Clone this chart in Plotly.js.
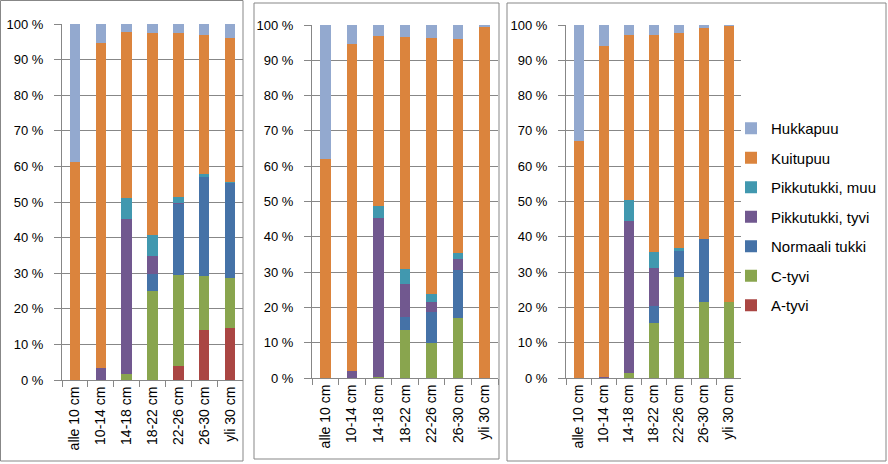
<!DOCTYPE html>
<html>
<head>
<meta charset="utf-8">
<script src="https://cdn.plot.ly/plotly-3.0.1.min.js"></script>
<style>html,body{margin:0;padding:0;background:#fff;}#chart{width:888px;height:464px;}</style>
</head>
<body>
<div id="chart"></div>
<script>
var categories = ['alle 10 cm','10-14 cm','14-18 cm','18-22 cm','22-26 cm','26-30 cm','yli 30 cm'];
var seriesNames = ['A-tyvi','C-tyvi','Normaali tukki','Pikkutukki, tyvi','Pikkutukki, muu','Kuitupuu','Hukkapuu'];
var seriesColors = ['#AA4643','#89A54E','#4572A7','#71588F','#4198AF','#DB843D','#93A9CF'];
var yTickVals = [0,10,20,30,40,50,60,70,80,90,100];
var yTickText = ['0 %','10 %','20 %','30 %','40 %','50 %','60 %','70 %','80 %','90 %','100 %'];

// Panel 1
var p1_A      = [0,0,0,0,4.0,14.0,14.6];
var p1_C      = [0,0,1.7,25.1,25.5,15.3,14.1];
var p1_Norm   = [0,0,0,4.7,19.9,27.8,26.5];
var p1_PTyvi  = [0,3.5,43.5,5.1,0.3,0,0];
var p1_PMuu   = [0,0,5.9,5.8,1.8,0.8,0.4];
var p1_Kuitu  = [61.1,91.1,46.6,56.7,45.9,39.0,40.6];
var p1_Hukka  = [38.9,5.4,2.3,2.6,2.6,3.1,3.8];

// Panel 2
var p2_A      = [0,0,0,0,0,0,0];
var p2_C      = [0,0,0.3,13.5,9.9,17.0,0];
var p2_Norm   = [0,0,0,3.8,8.8,13.7,0];
var p2_PTyvi  = [0,1.9,45.0,9.4,2.8,3.1,0];
var p2_PMuu   = [0,0,3.4,4.1,2.4,1.5,0];
var p2_Kuitu  = [62.0,92.6,48.3,65.9,72.5,60.7,99.3];
var p2_Hukka  = [38.0,5.5,3.0,3.3,3.6,4.0,0.7];

// Panel 3
var p3_A      = [0,0,0,0,0,0,0];
var p3_C      = [0,0,1.3,15.6,28.5,21.4,21.5];
var p3_Norm   = [0,0,0,4.7,7.6,18.0,0];
var p3_PTyvi  = [0,0.3,43.3,11.0,0,0,0];
var p3_PMuu   = [0,0,5.9,4.4,0.7,0,0];
var p3_Kuitu  = [67.0,93.8,46.7,61.5,60.8,59.7,78.2];
var p3_Hukka  = [33.0,5.9,2.8,2.8,2.4,0.9,0.3];

var panels = [
  [p1_A,p1_C,p1_Norm,p1_PTyvi,p1_PMuu,p1_Kuitu,p1_Hukka],
  [p2_A,p2_C,p2_Norm,p2_PTyvi,p2_PMuu,p2_Kuitu,p2_Hukka],
  [p3_A,p3_C,p3_Norm,p3_PTyvi,p3_PMuu,p3_Kuitu,p3_Hukka]
];

var W = 888, H = 464;
function px(x){ return x / W; }
function py(y){ return 1 - y / H; }

var traces = [];
panels.forEach(function(panel, pi){
  var sfx = pi === 0 ? '' : String(pi + 1);
  panel.forEach(function(vals, si){
    traces.push({
      type: 'bar',
      x: categories,
      y: vals,
      name: seriesNames[si],
      legendgroup: seriesNames[si],
      legendrank: seriesNames.length - si,
      showlegend: pi === 2,
      marker: {color: seriesColors[si], line: {width: 0}},
      xaxis: 'x' + sfx,
      yaxis: 'y' + sfx,
      hoverinfo: 'skip'
    });
  });
});

var font = 'Liberation Sans, Arial, sans-serif';
var gray = '#878787';

function xAxis(dom, anchor){
  return {
    domain: dom, anchor: anchor, type: 'category',
    showline: true, linecolor: gray, linewidth: 1,
    ticks: 'outside', tickson: 'boundaries', ticklen: 6, tickcolor: gray,
    tickangle: -90, showgrid: false, zeroline: false,
    tickfont: {family: font, size: 14, color: '#000'},
    fixedrange: true
  };
}
function yAxis(dom, anchor){
  return {
    domain: dom, anchor: anchor, range: [0, 100],
    tickvals: yTickVals, ticktext: yTickText,
    showgrid: true, gridcolor: gray, gridwidth: 1,
    showline: true, linecolor: gray, linewidth: 1,
    ticks: 'outside', ticklen: 7, tickcolor: gray,
    ticklabelstandoff: 8,
    zeroline: false,
    tickfont: {family: font, size: 13, color: '#000'},
    fixedrange: true
  };
}

var layout = {
  width: W, height: H,
  margin: {l: 0, r: 0, t: 0, b: 0},
  paper_bgcolor: '#fff', plot_bgcolor: 'rgba(0,0,0,0)',
  barmode: 'stack', bargap: 0.6,
  showlegend: true,
  legend: {
    x: px(731), y: py(112), xanchor: 'left', yanchor: 'top',
    traceorder: 'grouped', tracegroupgap: 7,
    font: {family: font, size: 15, color: '#000'},
    bgcolor: 'rgba(0,0,0,0)', borderwidth: 0
  },
  xaxis:  xAxis([px(62),  px(243)], 'y'),
  yaxis:  yAxis([py(380), py(24)], 'x'),
  xaxis2: xAxis([px(312), px(498)], 'y2'),
  yaxis2: yAxis([py(378), py(25)], 'x2'),
  xaxis3: xAxis([px(566), px(741)], 'y3'),
  yaxis3: yAxis([py(378), py(25)], 'x3'),
  shapes: [
    {type:'rect', xref:'paper', yref:'paper', x0:px(0.5), x1:px(243), y0:py(461), y1:py(0.5), line:{color:gray, width:1}},
    {type:'rect', xref:'paper', yref:'paper', x0:px(254), x1:px(499), y0:py(459), y1:py(3), line:{color:gray, width:1}},
    {type:'rect', xref:'paper', yref:'paper', x0:px(507), x1:px(886), y0:py(461), y1:py(3), line:{color:gray, width:1}}
  ]
};

Plotly.newPlot('chart', traces, layout, {displayModeBar: false, staticPlot: true});
</script>
</body>
</html>
